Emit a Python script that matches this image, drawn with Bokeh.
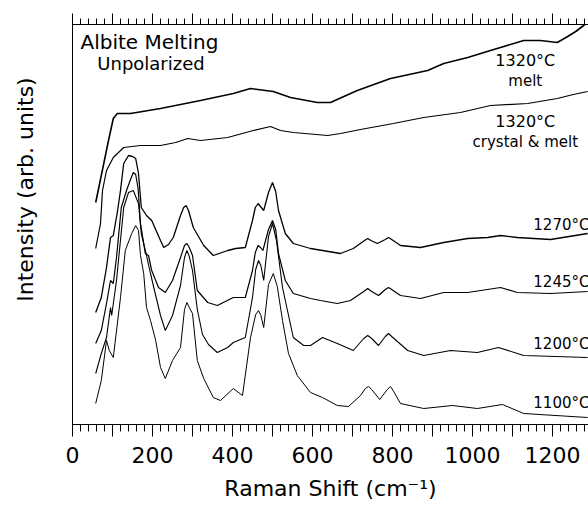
from bokeh.plotting import figure
from bokeh.models import Range1d, LinearAxis, SingleIntervalTicker, FixedTicker, Label
from bokeh.embed import file_html
from bokeh.resources import INLINE

# ---- data (Raman shift in cm^-1, intensity in arbitrary units, offset stacked) ----
melt_w = [58, 72, 90, 102, 112, 145, 220, 320, 402, 445, 502, 545, 612, 645, 712, 795,
          888, 928, 988, 1045, 1128, 1170, 1212, 1238, 1258, 1278, 1290]
melt_i = [222, 249, 284, 306, 311, 311, 316, 324, 331, 336, 333, 327, 322, 322, 334, 346,
          354, 361, 367, 374, 384, 384, 382, 388, 393, 399, 403]

cm_w = [58, 70, 75, 85, 102, 128, 170, 220, 258, 288, 320, 388, 452, 495, 520, 552, 638,
        670, 720, 802, 878, 970, 1045, 1138, 1212, 1252, 1288]
cm_i = [176, 201, 234, 254, 267, 277, 279, 279, 282, 286, 284, 287, 294, 298, 294, 292, 289,
        291, 295, 301, 307, 312, 319, 321, 326, 330, 333]

t1270_w = [58, 72, 85, 95, 102, 112, 120, 128, 140, 150, 158, 165, 172, 185, 198, 220, 228,
           240, 252, 270, 278, 284, 290, 302, 328, 352, 388, 408, 432, 450, 457, 464, 470,
           478, 490, 500, 508, 515, 532, 552, 595, 670, 702, 730, 738, 746, 762, 782, 790,
           798, 820, 870, 928, 988, 1038, 1070, 1112, 1195, 1288]
t1270_i = [112, 127, 157, 187, 189, 212, 234, 261, 269, 268, 266, 251, 217, 209, 204, 184, 177,
           180, 187, 209, 217, 219, 214, 197, 179, 169, 174, 176, 177, 204, 217, 221, 218,
           214, 232, 242, 233, 214, 191, 181, 176, 171, 176, 184, 186, 184, 181, 185, 187,
           185, 179, 177, 182, 186, 187, 189, 187, 185, 191]

t1245_w = [58, 72, 85, 95, 102, 110, 122, 135, 146, 152, 158, 164, 170, 182, 190, 198, 215,
           232, 250, 270, 280, 286, 292, 300, 312, 338, 362, 402, 432, 450, 457, 464, 470,
           476, 490, 500, 508, 515, 532, 552, 595, 620, 662, 695, 728, 738, 748, 765, 782,
           790, 798, 820, 870, 928, 988, 1070, 1112, 1195, 1288]
t1245_i = [81, 94, 121, 144, 141, 167, 217, 234, 246, 252, 250, 236, 201, 171, 169, 154, 137,
           132, 144, 167, 179, 181, 177, 169, 134, 122, 119, 127, 127, 154, 172, 179, 177,
           174, 195, 204, 195, 171, 144, 131, 126, 124, 121, 124, 133, 136, 133, 129, 135,
           137, 135, 129, 126, 132, 132, 137, 132, 131, 133]

t1200_w = [58, 72, 85, 95, 98, 110, 128, 140, 152, 165, 172, 185, 195, 208, 220, 232, 250,
           270, 280, 286, 292, 300, 312, 325, 340, 362, 388, 402, 432, 450, 458, 465, 471,
           478, 490, 500, 510, 525, 552, 578, 595, 625, 662, 702, 728, 738, 748, 765, 782,
           790, 798, 838, 878, 945, 1012, 1065, 1128, 1288]
t1200_i = [51, 71, 87, 117, 109, 144, 217, 232, 234, 221, 191, 169, 151, 129, 109, 94, 109,
           139, 167, 174, 168, 154, 115, 90, 80, 72, 77, 82, 87, 127, 155, 164, 159,
           144, 188, 201, 184, 137, 87, 79, 79, 87, 81, 74, 86, 89, 86, 79, 88,
           91, 88, 74, 69, 74, 72, 77, 69, 67]

t1100_w = [58, 72, 85, 92, 102, 120, 132, 148, 158, 165, 170, 178, 185, 195, 208, 220, 232,
           250, 270, 280, 286, 292, 300, 312, 328, 352, 370, 402, 425, 445, 458, 465, 471,
           478, 490, 502, 512, 525, 540, 562, 595, 625, 662, 690, 720, 732, 740, 748, 768,
           787, 795, 803, 820, 878, 950, 1012, 1075, 1128, 1288]
t1100_i = [21, 44, 84, 74, 67, 127, 174, 191, 199, 194, 169, 151, 117, 104, 84, 57, 46,
           64, 77, 115, 122, 117, 111, 64, 46, 27, 24, 36, 29, 87, 110, 114, 109,
           97, 140, 151, 138, 104, 71, 49, 32, 27, 19, 18, 29, 36, 38, 35, 25,
           35, 38, 33, 21, 16, 19, 16, 20, 11, 7]

x_tick_labels = [0, 200, 400, 600, 800, 1000, 1200]

FONT = "DejaVu Sans"

p = figure(width=588, height=506, output_backend="svg", toolbar_location=None,
           x_range=Range1d(0, 1290), y_range=Range1d(0, 400),
           min_border_left=72, min_border_right=0, min_border_top=24, min_border_bottom=82,
           x_axis_location=None, y_axis_location=None)
p.outline_line_color = None
p.grid.visible = False
p.background_fill_color = "white"
p.border_fill_color = "white"

# bottom axis: line + ticks (labels invisible)
xb = LinearAxis(ticker=SingleIntervalTicker(interval=100, num_minor_ticks=5))
xb.major_tick_out = 12
xb.major_tick_in = 0
xb.minor_tick_out = 7
xb.minor_tick_in = 0
xb.major_label_text_color = None
xb.major_label_text_font_size = "1px"
xb.major_label_standoff = 0
xb.axis_line_color = "black"
xb.major_tick_line_color = "black"
xb.minor_tick_line_color = "black"
p.add_layout(xb, "below")

# bottom axis: tick labels and title only
xl = LinearAxis(ticker=FixedTicker(ticks=x_tick_labels))
xl.axis_line_color = None
xl.major_tick_line_color = None
xl.minor_tick_line_color = None
xl.major_tick_out = 0
xl.major_tick_in = 0
xl.major_label_standoff = 10
xl.major_label_text_font = FONT
xl.major_label_text_font_size = "22px"
xl.major_label_text_color = "black"
xl.axis_label = "Raman Shift (cm\u207b\u00b9)"
xl.axis_label_text_font = FONT
xl.axis_label_text_font_size = "22px"
xl.axis_label_text_font_style = "normal"
xl.axis_label_text_color = "black"
xl.axis_label_standoff = 10
p.add_layout(xl, "below")

# top axis (ticks only)
xt = LinearAxis(ticker=SingleIntervalTicker(interval=100, num_minor_ticks=5))
xt.major_label_text_color = None
xt.major_label_text_font_size = "1px"
xt.major_label_standoff = 0
xt.major_tick_out = 11
xt.major_tick_in = 0
xt.minor_tick_out = 6
xt.minor_tick_in = 0
xt.axis_line_color = "black"
xt.major_tick_line_color = "black"
xt.minor_tick_line_color = "black"
p.add_layout(xt, "above")

# left axis (line + title only)
nb = "\u00a0"
yl = LinearAxis(ticker=FixedTicker(ticks=[]))
yl.major_tick_line_color = None
yl.minor_tick_line_color = None
yl.major_label_standoff = 0
yl.axis_line_color = "black"
yl.axis_label = nb * 10 + "Intensity (arb. units)"
yl.axis_label_text_font = FONT
yl.axis_label_text_font_size = "22px"
yl.axis_label_text_font_style = "normal"
yl.axis_label_text_color = "black"
yl.axis_label_standoff = 35
p.add_layout(yl, "left")

# spectra
p.line(melt_w, melt_i, line_color="black", line_width=1.6)
p.line(cm_w, cm_i, line_color="black", line_width=1.2)
p.line(t1270_w, t1270_i, line_color="black", line_width=1.3)
p.line(t1245_w, t1245_i, line_color="black", line_width=1.2)
p.line(t1200_w, t1200_i, line_color="black", line_width=1.1)
p.line(t1100_w, t1100_i, line_color="black", line_width=1.0)

def lab(x, y, text, size, align="left", baseline="middle"):
    p.add_layout(Label(x=x, y=y, text=text, text_font=FONT, text_font_size=size,
                       text_color="black", text_align=align, text_baseline=baseline))

lab(20, 383, "Albite Melting", "20px")
lab(62, 361, "Unpolarized", "18px")

lab(1132, 364, "1320\u00b0C", "16px", align="center")
lab(1132, 344, "melt", "15px", align="center")
lab(1132, 303, "1320\u00b0C", "16px", align="center")
lab(1132, 283, "crystal & melt", "15px", align="center")
lab(1152, 200, "1270\u00b0C", "15px")
lab(1152, 143, "1245\u00b0C", "15px")
lab(1152, 81, "1200\u00b0C", "15px")
lab(1152, 22, "1100\u00b0C", "15px")

open("out.html", "w").write(file_html(p, INLINE))
